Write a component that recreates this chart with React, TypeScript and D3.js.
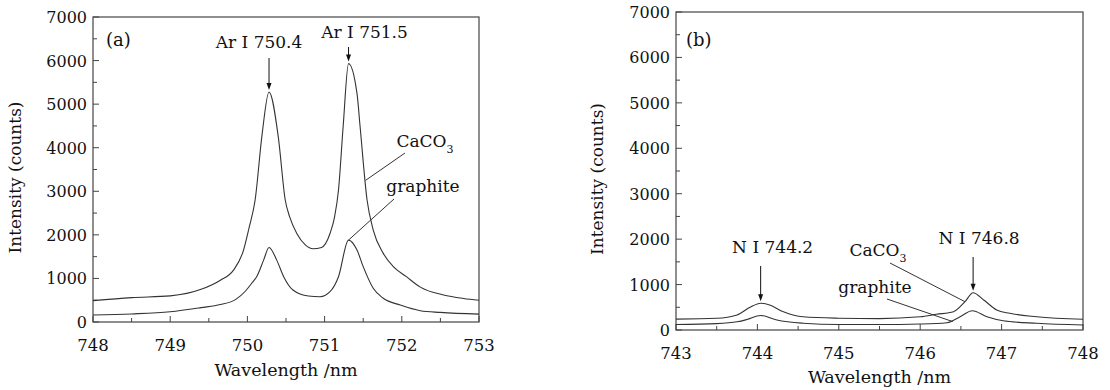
import React, { useEffect, useRef } from 'react'
import * as d3 from 'd3'

// panel (a): Ar I lines
const waveACaco3 = [748, 748.5, 749, 749.4, 749.65, 749.82, 749.95, 750.02, 750.1, 750.19, 750.28, 750.4, 750.49, 750.55, 750.64, 750.75, 750.85, 750.96, 751.07, 751.13, 751.18, 751.24, 751.31, 751.42, 751.46, 751.55, 751.63, 751.76, 751.89, 752.06, 752.24, 752.54, 752.8, 753]
const intACaco3 = [490, 560, 600, 750, 960, 1190, 1650, 2150, 2800, 4300, 5280, 4250, 2800, 2400, 2030, 1770, 1680, 1710, 2030, 2420, 3030, 4480, 5930, 5240, 4480, 2800, 2110, 1575, 1270, 1040, 800, 620, 540, 500]
const waveAGraphite = [748, 748.5, 749, 749.4, 749.65, 749.85, 749.97, 750.06, 750.12, 750.21, 750.28, 750.38, 750.47, 750.59, 750.79, 750.94, 751.07, 751.18, 751.31, 751.42, 751.5, 751.63, 751.76, 751.98, 752.24, 752.5, 753]
const intAGraphite = [160, 185, 235, 330, 400, 520, 700, 900, 1040, 1420, 1710, 1420, 1040, 734, 596, 580, 696, 1040, 1880, 1650, 1270, 773, 544, 390, 260, 220, 180]

// panel (b): N I lines
const waveBCaco3 = [743, 743.5, 743.75, 743.91, 744.04, 744.15, 744.32, 744.56, 745, 745.5, 746, 746.2, 746.41, 746.55, 746.65, 746.78, 746.94, 747.1, 747.43, 748]
const intBCaco3 = [240, 257, 330, 500, 590, 550, 400, 290, 260, 250, 290, 345, 403, 623, 821, 660, 440, 367, 293, 235]
const waveBGraphite = [743, 743.5, 743.75, 743.87, 744.04, 744.24, 744.56, 745, 745.5, 746, 746.33, 746.49, 746.64, 746.82, 747.02, 747.43, 748]
const intBGraphite = [120, 140, 180, 230, 320, 220, 150, 120, 120, 132, 161, 293, 425, 293, 205, 147, 110]

const yTicks = [0, 1000, 2000, 3000, 4000, 5000, 6000, 7000]
const xTicksA = [748, 749, 750, 751, 752, 753]
const xTicksB = [743, 744, 745, 746, 747, 748]

const FONT = 'DejaVu Serif'
const INK = '#111'

interface PanelSpec {
  left: number
  right: number
  top: number
  bottom: number
  xDomain: [number, number]
  xTicks: number[]
  series: { wave: number[]; val: number[] }[]
  tag: string
  tagPos: [number, number]
  yLabelX: number
  xLabelY: number
}

function drawPanel(svg: d3.Selection<SVGSVGElement, unknown, null, undefined>, p: PanelSpec) {
  const x = d3.scaleLinear().domain(p.xDomain).range([p.left, p.right])
  const y = d3.scaleLinear().domain([0, 7000]).range([p.bottom, p.top])
  const g = svg.append('g')

  // frame
  g.append('rect')
    .attr('x', p.left).attr('y', p.top)
    .attr('width', p.right - p.left).attr('height', p.bottom - p.top)
    .attr('fill', 'none').attr('stroke', '#444').attr('stroke-width', 1.2)

  // ticks inside
  const minorX = d3.range(p.xDomain[0], p.xDomain[1] + 0.001, 0.5)
  minorX.forEach(v => {
    const major = Math.abs(v - Math.round(v)) < 1e-6
    g.append('line')
      .attr('x1', x(v)).attr('x2', x(v))
      .attr('y1', p.bottom).attr('y2', p.bottom - (major ? 6 : 4))
      .attr('stroke', '#444')
  })
  d3.range(0, 7001, 500).forEach(v => {
    const major = v % 1000 === 0
    g.append('line')
      .attr('x1', p.left).attr('x2', p.left + (major ? 6 : 4))
      .attr('y1', y(v)).attr('y2', y(v))
      .attr('stroke', '#444')
  })

  g.selectAll(null).data(p.xTicks).enter().append('text')
    .attr('x', d => x(d)).attr('y', p.bottom + 29)
    .attr('text-anchor', 'middle')
    .attr('font-family', FONT).attr('font-size', 16.5).attr('fill', INK)
    .text(d => d)

  g.selectAll(null).data(yTicks).enter().append('text')
    .attr('x', p.left - 6).attr('y', d => y(d) + 6)
    .attr('text-anchor', 'end')
    .attr('font-family', FONT).attr('font-size', 16).attr('fill', INK)
    .text(d => d)

  g.append('text')
    .attr('x', (p.left + p.right) / 2).attr('y', p.xLabelY)
    .attr('text-anchor', 'middle')
    .attr('font-family', FONT).attr('font-size', 17.5).attr('fill', INK)
    .text('Wavelength /nm')

  g.append('text')
    .attr('transform', `translate(${p.yLabelX},${(p.top + p.bottom) / 2 + 8}) rotate(-90)`)
    .attr('text-anchor', 'middle')
    .attr('font-family', FONT).attr('font-size', 17).attr('fill', INK)
    .text('Intensity (counts)')

  g.append('text')
    .attr('x', p.tagPos[0]).attr('y', p.tagPos[1])
    .attr('font-family', FONT).attr('font-size', 18).attr('fill', INK)
    .text(p.tag)

  const line = d3.line<[number, number]>()
    .x(d => x(d[0]))
    .y(d => y(d[1]))
    .curve(d3.curveMonotoneX)

  p.series.forEach(s => {
    const pts = s.wave.map((w, i) => [w, s.val[i]] as [number, number])
    g.append('path')
      .datum(pts)
      .attr('fill', 'none')
      .attr('stroke', '#333')
      .attr('stroke-width', 1.1)
      .attr('d', line)
  })

  return { x, y, g }
}

function arrow(g: d3.Selection<SVGGElement, unknown, null, undefined>, xPos: number, y1: number, y2: number) {
  g.append('line')
    .attr('x1', xPos).attr('x2', xPos).attr('y1', y1).attr('y2', y2 - 5)
    .attr('stroke', INK).attr('stroke-width', 1)
  g.append('path')
    .attr('d', `M${xPos - 2.5},${y2 - 7}L${xPos + 2.5},${y2 - 7}L${xPos},${y2}Z`)
    .attr('fill', INK)
}

function label(g: d3.Selection<SVGGElement, unknown, null, undefined>, text: string, xPos: number, yPos: number, sub?: string) {
  const t = g.append('text')
    .attr('x', xPos).attr('y', yPos)
    .attr('text-anchor', 'middle')
    .attr('font-family', FONT).attr('font-size', 17).attr('fill', INK)
  t.append('tspan').text(text)
  if (sub) {
    t.append('tspan').attr('dy', 6).attr('font-size', 11).text(sub)
  }
}

function leader(g: d3.Selection<SVGGElement, unknown, null, undefined>, x1: number, y1: number, x2: number, y2: number) {
  g.append('line')
    .attr('x1', x1).attr('y1', y1).attr('x2', x2).attr('y2', y2)
    .attr('stroke', '#333').attr('stroke-width', 1)
}

export default function App() {
  const svgRef = useRef<SVGSVGElement>(null)

  useEffect(() => {
    if (!svgRef.current) return
    const svg = d3.select(svgRef.current)
    svg.selectAll('*').remove()

    // 面板 (a)
    const a = drawPanel(svg, {
      left: 93, right: 479, top: 17, bottom: 322,
      xDomain: [748, 753], xTicks: xTicksA,
      series: [
        { wave: waveACaco3, val: intACaco3 },
        { wave: waveAGraphite, val: intAGraphite }
      ],
      tag: '(a)', tagPos: [106, 46],
      yLabelX: 21, xLabelY: 376
    })
    label(a.g, 'Ar I 750.4', a.x(750.28) - 10, 48)
    arrow(a.g, a.x(750.28), 58, a.y(5280) - 2)
    label(a.g, 'Ar I 751.5', a.x(751.31) + 16, 38)
    arrow(a.g, a.x(751.31), 47, a.y(5930) - 2)
    label(a.g, 'CaCO', 425, 147, '3')
    leader(a.g, 405, 153, a.x(751.53), a.y(3250))
    label(a.g, 'graphite', 423, 192)
    leader(a.g, 394, 199, a.x(751.31), a.y(1880))

    // 面板 (b)
    const b = drawPanel(svg, {
      left: 676, right: 1083, top: 12, bottom: 330,
      xDomain: [743, 748], xTicks: xTicksB,
      series: [
        { wave: waveBCaco3, val: intBCaco3 },
        { wave: waveBGraphite, val: intBGraphite }
      ],
      tag: '(b)', tagPos: [686, 46],
      yLabelX: 603, xLabelY: 383
    })
    label(b.g, 'N I 744.2', b.x(744.04) + 12, 253)
    arrow(b.g, b.x(744.04), 266, b.y(590) - 2)
    label(b.g, 'N I 746.8', b.x(746.65) + 6, 244)
    arrow(b.g, b.x(746.65), 257, b.y(821) - 2)
    label(b.g, 'CaCO', 878, 256, '3')
    leader(b.g, 890, 263, b.x(746.55), b.y(623))
    label(b.g, 'graphite', 875, 293)
    leader(b.g, 887, 299, b.x(746.4), b.y(185))
  }, [])

  return (
    <svg
      ref={svgRef}
      width={1110}
      height={390}
      style={{ position: 'absolute', left: 0, top: 0, background: '#fff' }}
    />
  )
}
